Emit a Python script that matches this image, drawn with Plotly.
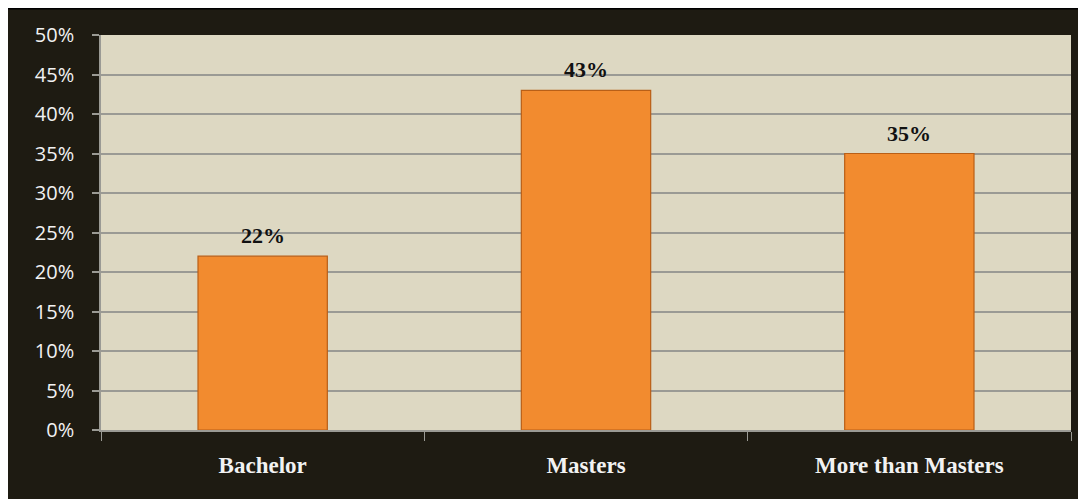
import plotly.graph_objects as go

categories = ["Bachelor", "Masters", "More than Masters"]
values = [22, 43, 35]
labels = ["22%", "43%", "35%"]
y_ticks = [0, 5, 10, 15, 20, 25, 30, 35, 40, 45, 50]
y_tick_text = [f"{v}%" for v in y_ticks]

# page is rendered with an 8px body margin, so the figure is offset by 8px
W, H = 1078, 491
L, R, T, B = 93, 15, 27, 69
ph = H - T - B
pw = W - L - R

def py(p):
    return (H - B - p) / ph

def px(p):
    return (p - L) / pw

fig = go.Figure()
fig.add_trace(go.Bar(
    x=categories, y=values, width=0.4,
    marker=dict(color="#f28b2f", line=dict(color="#b95f17", width=1.2)),
    hoverinfo="skip",
))

for c, v, t in zip(categories, values, labels):
    fig.add_annotation(x=c, y=v, text=t, showarrow=False, yanchor="bottom", yshift=6,
                       font=dict(family="Liberation Serif", size=22, color="#111111", weight="bold"))

shapes = [
    dict(type="rect", xref="paper", yref="paper", x0=px(0), x1=px(W), y0=py(1.5), y1=py(0),
         fillcolor="#000000", line=dict(width=0)),
]

fig.update_layout(
    width=W, height=H,
    margin=dict(l=L, r=R, t=T, b=B, pad=0),
    paper_bgcolor="#1e1b12",
    plot_bgcolor="#ddd8c2",
    showlegend=False,
    shapes=shapes,
    xaxis=dict(
        showgrid=False, showline=True, linecolor="#9a9a94", linewidth=1.5,
        ticks="outside", tickson="boundaries", ticklen=9, tickcolor="#9a9a94", tickwidth=1,
        tickfont=dict(family="Liberation Serif", size=23, color="#f2f2f2", weight="bold"),
        ticklabelstandoff=14,
    ),
    yaxis=dict(
        range=[0, 50], tickvals=y_ticks, ticktext=y_tick_text,
        showgrid=True, gridcolor="#9a9a94", gridwidth=1.5,
        showline=True, linecolor="#9a9a94", linewidth=1.5,
        ticks="outside", ticklen=7, tickcolor="#9a9a94", tickwidth=1.5,
        tickfont=dict(family="Open Sans", size=20, color="#f2f2f2"),
        ticklabelstandoff=14, zeroline=False,
    ),
)

fig.write_html("out.html")
